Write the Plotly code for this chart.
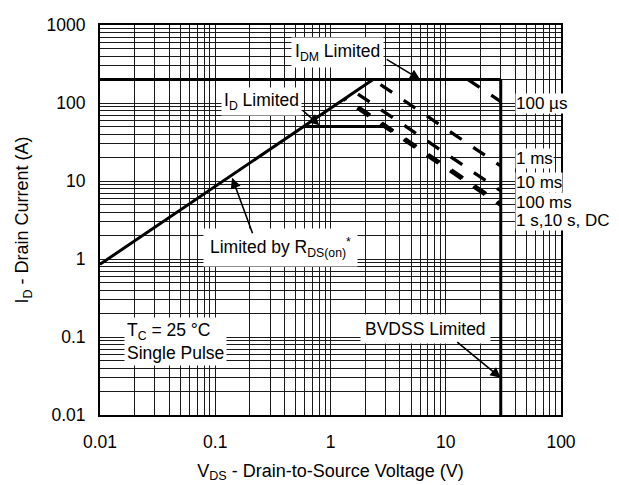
import math
import plotly.graph_objects as go

# ---- data ----
x_tick_vals = [0.01, 0.1, 1, 10, 100]
x_tick_text = ["0.01", "0.1", "1", "10", "100"]
y_tick_vals = [0.01, 0.1, 1, 10, 100, 1000]
y_tick_text = ["0.01", "0.1", "1", "10", "100", "1000"]

rds_v = [0.01, 2.34]
rds_i = [0.855, 200]
idm_v = [0.01, 30]
idm_i = [200, 200]
bvdss_v = [30, 30]
bvdss_i = [200, 0.01]
idlim_v = [0.585, 2.9]
idlim_i = [50, 50]

us100_v = [15.6, 30]
us100_i = [200, 104]
ms1_v = [2.34, 30]
ms1_i = [200, 15.6]
ms10_v = [1.62, 30]
ms10_i = [139, 7.5]
ms100_v = [1.346, 30]
ms100_i = [115, 5.17]
dc_v = [1.307, 30]
dc_i = [111.7, 4.87]

pulse_labels = ["100 µs", "1 ms", "10 ms", "100 ms", "1 s,10 s, DC"]
pulse_label_i = [100, 19.4, 9.44, 5.31, 3.16]

FONT = "Liberation Sans, Arial, Helvetica, sans-serif"
FS = 17.5
TFS = 17.5

# grid positions: 1..9 in each decade
x_grid = [m * 10 ** e for e in range(-2, 2) for m in range(1, 10)] + [100]
x_grid_text = [x_tick_text[x_tick_vals.index(v)] if v in x_tick_vals else "" for v in x_grid]
y_grid = [m * 10 ** e for e in range(-2, 3) for m in range(1, 10)] + [1000]
y_grid_text = [y_tick_text[y_tick_vals.index(v)] if v in y_tick_vals else "" for v in y_grid]

fig = go.Figure()

solid = dict(color="black", width=3)
for v, i in [(rds_v, rds_i), (idm_v, idm_i), (bvdss_v, bvdss_i), (idlim_v, idlim_i)]:
    fig.add_trace(go.Scatter(x=v, y=i, mode="lines", line=solid, showlegend=False, hoverinfo="skip"))

dashed = [
    (us100_v, us100_i, "14px,14px"),
    (ms1_v, ms1_i, "0px,9px,14px,5px"),
    (ms10_v, ms10_i, "0px,4px,14px,10px"),
    (ms100_v, ms100_i, "2px,14px,12px,0px"),
    (dc_v, dc_i, "2px,14px,12px,0px"),
]
for v, i, d in dashed:
    fig.add_trace(go.Scatter(x=v, y=i, mode="lines",
                             line=dict(color="black", width=3.3, dash=d),
                             showlegend=False, hoverinfo="skip"))

L = math.log10

def label(text, x, y, xanchor="center", align="center", pad=2, size=FS):
    fig.add_annotation(x=L(x), y=L(y), xref="x", yref="y", text=text, showarrow=False,
                       xanchor=xanchor, yanchor="middle", align=align,
                       bgcolor="white", borderpad=pad,
                       font=dict(family=FONT, size=size, color="black"))

def arrow(x, y, ax, ay):
    fig.add_annotation(x=L(x), y=L(y), xref="x", yref="y", text="", showarrow=True,
                       ax=ax, ay=ay, arrowhead=2, arrowsize=1.3, arrowwidth=1.6,
                       arrowcolor="black", standoff=0)

label("I<sub>DM</sub> Limited", 1.16, 447, pad=3)
arrow(6.0, 200, -35, -21)
label("I<sub>D</sub> Limited", 0.25, 106, pad=2)
arrow(0.8, 52, -18, -16)
label("Limited by R<sub>DS(on)</sub><sup>*</sup>", 0.37, 1.41, pad=6)
arrow(0.14, 11, 21, 57)
label("T<sub>C</sub> = 25 °C<br>Single Pulse", 0.045, 0.087, align="left", pad=2)
label("BVDSS Limited", 6.7, 0.126, pad=4)
arrow(30, 0.03, -45, -37)

for txt, yv in zip(pulse_labels, pulse_label_i):
    label(txt, 40, yv, xanchor="left", pad=0, size=17)

axis_common = dict(
    type="log", showgrid=True, gridcolor="#1a1a1a", gridwidth=1,
    showline=True, linecolor="black", linewidth=2, mirror=True,
    ticks="", zeroline=False, ticklabeloverflow="allow",
    tickfont=dict(family=FONT, size=TFS, color="black"),
)

fig.update_xaxes(**axis_common, range=[-2, 2], tickmode="array",
                 tickvals=x_grid, ticktext=x_grid_text, ticklabelstandoff=10,
                 title=dict(text="V<sub>DS</sub> - Drain-to-Source Voltage (V)",
                            font=dict(family=FONT, size=18, color="black"), standoff=13))
fig.update_yaxes(**axis_common, range=[-2, 3], tickmode="array",
                 tickvals=y_grid, ticktext=y_grid_text, ticklabelstandoff=9,
                 title=dict(text="I<sub>D</sub> - Drain Current (A)",
                            font=dict(family=FONT, size=18, color="black"), standoff=13))

# page body has an 8px default margin, so the figure is 8px smaller each way
fig.update_layout(width=611, height=477, margin=dict(l=92, r=58, t=7, b=70),
                  plot_bgcolor="white", paper_bgcolor="white",
                  font=dict(family=FONT, size=FS, color="black"))

fig.write_html("out.html")
